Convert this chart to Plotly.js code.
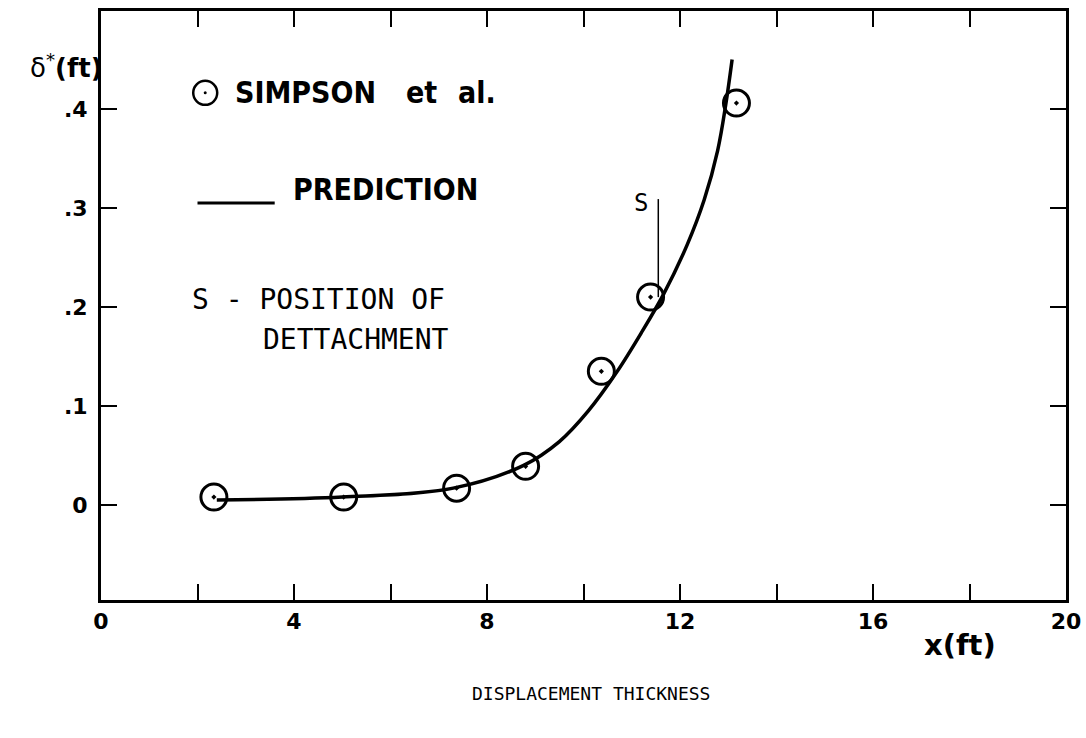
<!DOCTYPE html>
<html>
<head>
<meta charset="utf-8">
<script src="https://cdn.plot.ly/plotly-3.0.1.min.js"></script>
<style>
  html, body { margin: 0; padding: 0; background: #fff; }
  #chart { width: 1086px; height: 738px; }
</style>
</head>
<body>
<div id="chart"></div>
<script>
// Measured displacement thickness (Simpson et al.)
const simpsonX = [2.34, 5.03, 7.37, 8.80, 10.37, 11.39, 13.17];
const simpsonY = [0.008, 0.008, 0.017, 0.039, 0.135, 0.210, 0.406];

// Predicted displacement thickness
const predX = [2.40, 5.00, 7.30, 8.76, 9.50, 10.10, 10.70, 11.20, 11.66, 12.15, 12.50, 12.78, 12.95, 13.08];
const predY = [0.005, 0.008, 0.017, 0.040, 0.064, 0.095, 0.135, 0.174, 0.213, 0.263, 0.308, 0.358, 0.405, 0.450];

// Position of detachment
const detachX = 11.55;
const detachY = [0.210, 0.309];

// Axis ticks (labelled every 4 ft, minor ticks every 2 ft)
const xTickVals = [0, 4, 8, 12, 16, 20];
const xTickText = ['0', '4', '8', '12', '16', '20'];
const xMinorStep = 2;
const yTickVals = [0, 0.1, 0.2, 0.3, 0.4];
const yTickText = ['0', '.1', '.2', '.3', '.4'];

const boldFont = 'DejaVu Sans, Liberation Sans, sans-serif';
const condFont = 'DejaVu Sans Condensed, Liberation Sans Narrow, DejaVu Sans, sans-serif';
const monoFont = 'DejaVu Sans Mono, Liberation Mono, monospace';

const traces = [
  {
    x: predX, y: predY,
    mode: 'lines', type: 'scatter',
    line: { color: '#000', width: 3.5, shape: 'spline', smoothing: 1 },
    hoverinfo: 'skip', showlegend: false
  },
  {
    x: simpsonX, y: simpsonY,
    mode: 'markers', type: 'scatter',
    marker: { symbol: 'circle-open-dot', size: 26, color: '#000', line: { color: '#000', width: 3 } },
    showlegend: false
  }
];

// legend symbol anchors (paper fraction)
const legX = 0.108, legY = 0.861;

const layout = {
  width: 1086, height: 738,
  margin: { l: 101, r: 20, t: 11, b: 138 },
  paper_bgcolor: '#fff', plot_bgcolor: '#fff',
  showlegend: false,
  xaxis: {
    range: [0, 20],
    tickmode: 'array', tickvals: xTickVals, ticktext: xTickText,
    ticks: 'inside', ticklen: 16, tickwidth: 2, tickcolor: '#000',
    minor: { tickmode: 'linear', tick0: 0, dtick: xMinorStep, ticks: 'inside', ticklen: 16, tickwidth: 2, tickcolor: '#000' },
    showline: true, linewidth: 3, linecolor: '#000', mirror: 'ticks',
    showgrid: false, zeroline: false,
    tickfont: { family: boldFont, size: 22, color: '#000', weight: 'bold' }
  },
  yaxis: {
    range: [-0.096, 0.499],
    tickmode: 'array', tickvals: yTickVals, ticktext: yTickText,
    ticks: 'inside', ticklen: 16, tickwidth: 2, tickcolor: '#000',
    showline: true, linewidth: 3, linecolor: '#000', mirror: 'ticks',
    showgrid: false, zeroline: false, ticklabelstandoff: 6,
    tickfont: { family: boldFont, size: 22, color: '#000', weight: 'bold' }
  },
  shapes: [
    // detachment marker
    { type: 'line', xref: 'x', yref: 'y', x0: detachX, x1: detachX, y0: detachY[0], y1: detachY[1],
      line: { color: '#000', width: 1.5 } },
    // legend: open circle with centre dot
    { type: 'circle', xref: 'paper', yref: 'paper', xsizemode: 'pixel', ysizemode: 'pixel',
      xanchor: legX, yanchor: legY, x0: -12, x1: 12, y0: -12, y1: 12,
      line: { color: '#000', width: 2.5 } },
    { type: 'circle', xref: 'paper', yref: 'paper', xsizemode: 'pixel', ysizemode: 'pixel',
      xanchor: legX, yanchor: legY, x0: -1.5, x1: 1.5, y0: -1.5, y1: 1.5,
      fillcolor: '#000', line: { color: '#000', width: 0 } },
    // legend: prediction line
    { type: 'line', xref: 'paper', yref: 'paper', x0: 0.100, x1: 0.180, y0: 0.674, y1: 0.674,
      line: { color: '#000', width: 3 } }
  ],
  annotations: [
    { xref: 'paper', yref: 'paper', x: 0.137, y: 0.861, xanchor: 'left', yanchor: 'middle', showarrow: false,
      text: '<b>SIMPSON</b>', font: { family: condFont, size: 30, color: '#000' } },
    { xref: 'paper', yref: 'paper', x: 0.314, y: 0.861, xanchor: 'left', yanchor: 'middle', showarrow: false,
      text: '<b>et</b>', font: { family: condFont, size: 30, color: '#000' } },
    { xref: 'paper', yref: 'paper', x: 0.368, y: 0.861, xanchor: 'left', yanchor: 'middle', showarrow: false,
      text: '<b>al.</b>', font: { family: condFont, size: 30, color: '#000' } },
    { xref: 'paper', yref: 'paper', x: 0.197, y: 0.697, xanchor: 'left', yanchor: 'middle', showarrow: false,
      text: '<b>PREDICTION</b>', font: { family: condFont, size: 30, color: '#000' } },
    { xref: 'paper', yref: 'paper', x: 0.092, y: 0.510, xanchor: 'left', yanchor: 'middle', showarrow: false,
      text: 'S - POSITION OF', font: { family: monoFont, size: 28, color: '#000' } },
    { xref: 'paper', yref: 'paper', x: 0.166, y: 0.442, xanchor: 'left', yanchor: 'middle', showarrow: false,
      text: 'DETTACHMENT', font: { family: monoFont, size: 28, color: '#000' } },
    { xref: 'x', yref: 'y', x: 11.2, y: 0.305, xanchor: 'center', yanchor: 'middle', showarrow: false,
      text: 'S', font: { family: monoFont, size: 24, color: '#000' } },
    { xref: 'paper', yref: 'paper', x: -0.036, y: 0.906, xanchor: 'center', yanchor: 'middle', showarrow: false,
      text: 'δ<sup>*</sup><b>(ft)</b>', font: { family: boldFont, size: 26, color: '#000' } },
    { xref: 'paper', yref: 'paper', x: 0.890, y: -0.076, xanchor: 'center', yanchor: 'middle', showarrow: false,
      text: '<b>x(ft)</b>', font: { family: boldFont, size: 29, color: '#000' } },
    { xref: 'paper', yref: 'paper', x: 0.508, y: -0.158, xanchor: 'center', yanchor: 'middle', showarrow: false,
      text: 'DISPLACEMENT THICKNESS', font: { family: monoFont, size: 18, color: '#000' } }
  ]
};

Plotly.newPlot('chart', traces, layout, { displayModeBar: false, staticPlot: true });
</script>
</body>
</html>
